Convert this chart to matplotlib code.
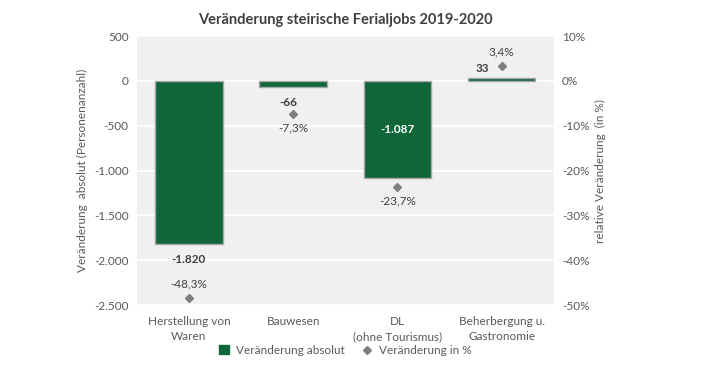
import matplotlib.pyplot as plt
from matplotlib.ticker import FuncFormatter
import numpy as np

plt.rcParams['font.family'] = ['Lato', 'DejaVu Sans']

# Daten
kategorien = ['Herstellung von\nWaren', 'Bauwesen', 'DL\n(ohne Tourismus)', 'Beherbergung u.\nGastronomie']
absolut = [-1820, -66, -1087, 33]
prozent = [-48.3, -7.3, -23.7, 3.4]
absolut_labels = ['-1.820', '-66', '-1.087', '33']
prozent_labels = ['-48,3%', '-7,3%', '-23,7%', '3,4%']

gruen = '#0E6639'
grau = '#7F7F7F'
text_grau = '#595959'

fig = plt.figure(figsize=(7.09, 3.69), dpi=100)
ax = fig.add_axes([0.193, 0.173, 0.588, 0.729])
ax.set_facecolor('#F0F0F0')
x = np.arange(len(kategorien))

ax.bar(x, absolut, width=0.65, color=gruen, edgecolor='#A6A6A6', linewidth=1, zorder=3)
ax.set_ylim(-2500, 500)
ax.set_xlim(-0.5, 3.5)
ax.set_yticks(np.arange(-2500, 501, 500))
ax.yaxis.set_major_formatter(FuncFormatter(lambda v, p: f'{int(v):,}'.replace(',', '.')))
ax.grid(axis='y', color='white', linewidth=1.2, zorder=0)
for s in ax.spines.values():
    s.set_visible(False)
ax.tick_params(length=0, labelsize=8.5, colors=text_grau)
ax.tick_params(axis='y', pad=6)
ax.set_xticks(x)
ax.set_xticklabels(kategorien, fontsize=8.5, color=text_grau, linespacing=1.4)
ax.tick_params(axis='x', pad=8)
ax.set_ylabel('Veränderung  absolut (Personenanzahl)', fontsize=8.5, color=text_grau, labelpad=4)

# Beschriftungen absolut
for i, (v, lab) in enumerate(zip(absolut, absolut_labels)):
    if i == 2:
        ax.text(x[i], v / 2, lab, ha='center', va='center', color='white',
                fontsize=8.5, fontweight='bold', zorder=5)
    elif v < 0:
        ax.annotate(lab, (x[i] - (0.05 if i == 1 else 0), v), xytext=(0, -7), textcoords='offset points',
                    ha='center', va='top', fontsize=8.5, fontweight='bold', color='#404040')
    else:
        ax.annotate(lab, (x[i] - 0.18, v), xytext=(0, 3), textcoords='offset points',
                    ha='center', va='bottom', fontsize=8.5, fontweight='bold', color='#404040')

ax2 = ax.twinx()
ax2.set_ylim(-50, 10)
ax2.set_yticks(np.arange(-50, 11, 10))
ax2.yaxis.set_major_formatter(FuncFormatter(lambda v, p: f'{int(v)}%'))
ax2.plot(x, prozent, linestyle='none', marker='D', markersize=4.5, color=grau, zorder=4)
for s in ax2.spines.values():
    s.set_visible(False)
ax2.tick_params(length=0, labelsize=8.5, colors=text_grau, pad=6)
ax2.set_ylabel('relative Veränderung  (in %)', fontsize=8.5, color=text_grau, labelpad=4)

for i, (v, lab) in enumerate(zip(prozent, prozent_labels)):
    if i in (0, 3):
        ax2.annotate(lab, (x[i], v), xytext=(0, 6), textcoords='offset points',
                     ha='center', va='bottom', fontsize=8.5, color='#404040')
    else:
        ax2.annotate(lab, (x[i], v), xytext=(0, -6), textcoords='offset points',
                     ha='center', va='top', fontsize=8.5, color='#404040')

fig.suptitle('Veränderung steirische Ferialjobs 2019-2020', x=0.487, y=0.965,
             fontsize=10.5, fontweight='bold', color='#404040')

h1 = plt.Rectangle((0, 0), 1, 1, color=gruen)
h2 = plt.Line2D([], [], linestyle='none', marker='D', markersize=4, color=grau)
fig.legend([h1, h2], ['Veränderung absolut', 'Veränderung in %'], loc='center',
           bbox_to_anchor=(0.487, 0.05), ncol=2, frameon=False, fontsize=8.5,
           labelcolor=text_grau, handlelength=0.8, handleheight=0.8, columnspacing=1.5,
           handletextpad=0.6)

fig.savefig('out.png', dpi=100)
